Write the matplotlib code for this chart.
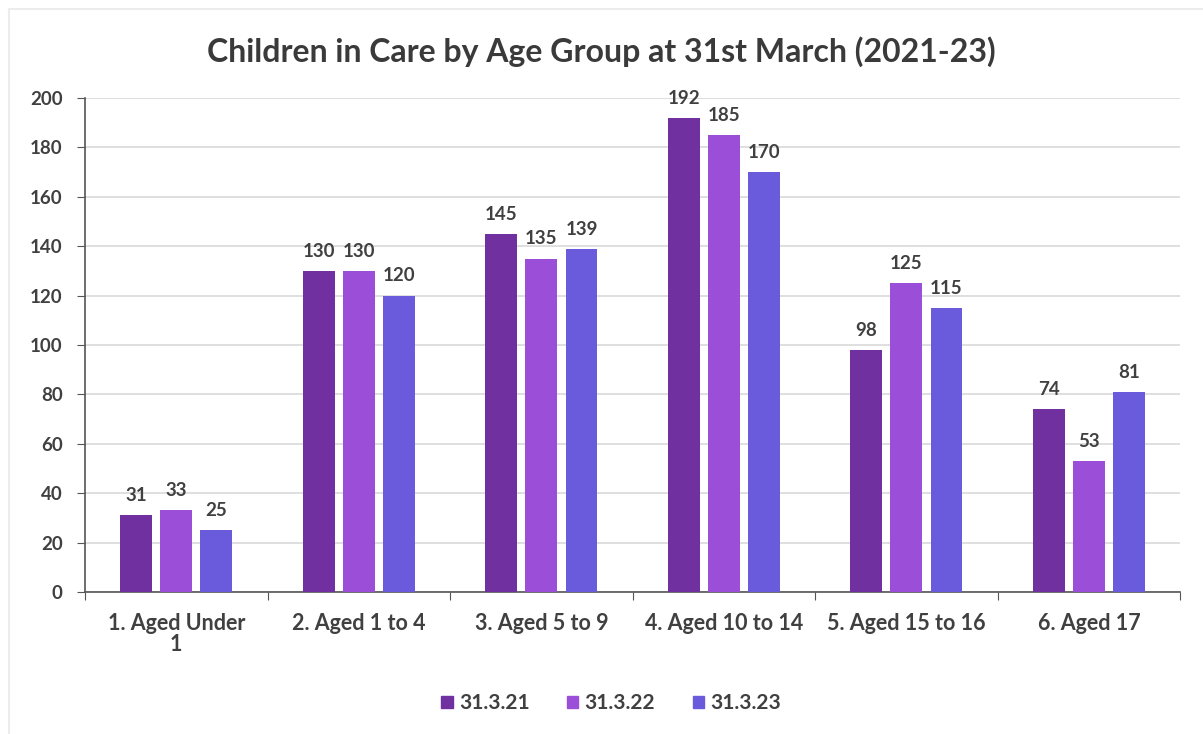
import numpy as np
import matplotlib.pyplot as plt
from matplotlib.lines import Line2D

categories = ["1. Aged Under\n1", "2. Aged 1 to 4", "3. Aged 5 to 9",
              "4. Aged 10 to 14", "5. Aged 15 to 16", "6. Aged 17"]
series_names = ["31.3.21", "31.3.22", "31.3.23"]
values_2021 = [31, 130, 145, 192, 98, 74]
values_2022 = [33, 130, 135, 185, 125, 53]
values_2023 = [25, 120, 139, 170, 115, 81]
y_ticks = [0, 20, 40, 60, 80, 100, 120, 140, 160, 180, 200]

colors = ["#7030A0", "#9B4FD8", "#6A5BDD"]
text_color = "#404040"
font = ["Lato", "DejaVu Sans"]

plt.rcParams["font.family"] = font

fig = plt.figure(figsize=(12.03, 7.34), dpi=100)
ax = fig.add_axes([0.0707, 0.1935, 0.9103, 0.673])

x = np.arange(len(categories))
width = 0.175
step = 0.22
series = [values_2021, values_2022, values_2023]
for i, (vals, name, col) in enumerate(zip(series, series_names, colors)):
    bars = ax.bar(x + (i - 1) * step, vals, width, color=col, label=name, zorder=3)
    ax.bar_label(bars, labels=[str(v) for v in vals], padding=8,
                 fontsize=13.5, fontweight="bold", color=text_color)

ax.set_xlim(-0.5, len(categories) - 0.5)
ax.set_ylim(0, 200)
ax.set_yticks(y_ticks)
ax.set_yticklabels([str(t) for t in y_ticks], fontsize=13.5, fontweight="bold",
                   color=text_color)
ax.set_xticks(np.arange(len(categories) + 1) - 0.5, minor=False)
ax.set_xticklabels([])
ax.set_xticks(x, minor=True)
ax.set_xticklabels(categories, minor=True, fontsize=15.5, fontweight="bold",
                   color=text_color, linespacing=1.0)
ax.tick_params(axis="x", which="minor", length=0, pad=15)
ax.tick_params(axis="x", which="major", length=6, color="#555555", direction="out")
ax.tick_params(axis="y", length=6, color="#555555", pad=10)

ax.grid(axis="y", color="#d9d9d9", linewidth=1.2, zorder=0)
for side in ["top", "right"]:
    ax.spines[side].set_visible(False)
ax.spines["left"].set_color("#555555")
ax.spines["bottom"].set_color("#555555")
ax.spines["left"].set_linewidth(1.2)
ax.spines["bottom"].set_linewidth(1.2)

fig.suptitle("Children in Care by Age Group at 31st March (2021-23)",
             x=0.5, y=0.95, fontsize=23, fontweight="bold", color="#3a3a3a")

handles = [plt.Rectangle((0, 0), 1, 1, color=c) for c in colors]
fig.legend(handles, series_names, loc="center", bbox_to_anchor=(0.508, 0.042),
           ncol=3, frameon=False, handlelength=0.55,
           handleheight=0.55, handletextpad=0.3, columnspacing=1.8,
           prop={"weight": "bold", "size": 15, "family": font},
           labelcolor=text_color)

# faint outer frame along the left and top edges
fig.add_artist(Line2D([0.0075, 0.0075], [0.0, 0.988], transform=fig.transFigure,
                      color="#ececec", linewidth=1.5))
fig.add_artist(Line2D([0.0075, 1.0], [0.988, 0.988], transform=fig.transFigure,
                      color="#ececec", linewidth=1.5))

fig.savefig("out.png", dpi=100)
